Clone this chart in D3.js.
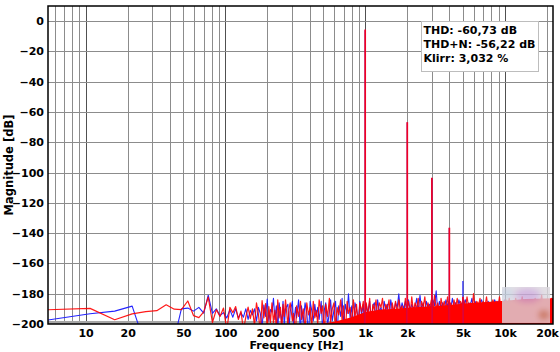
<!DOCTYPE html>
<html>
<head>
<meta charset="utf-8">
<script src="https://cdn.jsdelivr.net/npm/d3@7"></script>
<style>
  body { margin: 0; background: #fff; }
  text { font-family: "DejaVu Sans", Verdana, sans-serif; font-weight: bold; fill: #000; }
</style>
</head>
<body>
<svg id="chart" width="560" height="352"></svg>
<script>
// FFT bin width (44.1 kHz, 8192 points)
const BIN_HZ = 44100 / 8192;

// axis ticks
const xTicks = [10, 20, 50, 100, 200, 500, 1000, 2000, 5000, 10000, 20000];
const xTickLabels = ["10", "20", "50", "100", "200", "500", "1k", "2k", "5k", "10k", "20k"];
const yTicks = [0, -20, -40, -60, -80, -100, -120, -140, -160, -180, -200];

// low part of the spectrum: every bin 1..39
const lowBins = [1,2,3,4,5,6,7,8,9,10,11,12,13,14,15,16,17,18,19,20,
  21,22,23,24,25,26,27,28,29,30,31,32,33,34,35,36,37,38,39];
const redLow = [-190.6,-189.7,-197.2,-193.3,-191.8,-191.2,-187.3,-190.2,-190.5,-184.8,
  -194.5,-195.8,-192.0,-182.2,-199.0,-190.5,-195.0,-189.5,-204,-189.0,
  -192.5,-188.5,-197.0,-191.5,-204,-195.5,-188.8,-196.5,-190.0,-201,
  -186.0,-193.5,-205,-184.5,-196.0,-186.5,-203,-188.5,-199.0];
const blueLow = [-197.4,-193.2,-191.5,-188.2,-215,-225,-225,-210,-190.0,-189.5,
  -191.5,-189.0,-192.8,-181.0,-193.0,-190.0,-194.5,-192.5,-196.0,-190.5,
  -195.5,-190.0,-196.0,-192.5,-195.5,-190.0,-197.0,-191.0,-194.0,-190.0,
  -198.0,-189.0,-193.0,-202,-187.5,-195.0,-183.5,-198.0,-190.5];

// upper part: a thinned selection of bins
const highBins = [40,41,42,43,44,45,46,47,48,49, 50,52,53,54,56,57,59,60,62,64,
  65,67,69,71,73,75,77,79,81,83, 85,87,90,92,95,97,100,103,105,108,
  111,114,117,120,124,127,130,134,138,141, 145,149,153,157,161,166,170,175,180,184,
  189,194,200,205,211,216,222,228,234,241, 247,254,261,268,275,283,290,298,306,315,
  323,332,341,350,360,369,379,390,400,411, 422,434,445,458,470,483,496,509,523,537,
  552,567,582,598,614,631,648,665,683,702, 721,740,760,781,802,824,846,869,893,917,
  942,967,994,1021,1048,1077,1106,1136,1167,1198, 1231,1264,1298,1334,1370,1407,1445,1484,1524,1566,
  1608,1652,1696,1742,1789,1838,1888,1939,1991,2045, 2101,2158,2216,2276,2338,2401,2466,2533,2601,2672,
  2744,2818,2895,2973,3053,3136,3221,3308,3398,3490, 3584,3681,3781,3883,3988,4096];
const redHigh = [-186,-199,-191,-203,-184,-196,-189,-205,-187,-195,
  -184,-201,-190,-186,-198,-193,-207,-188,-195,-185,
  -197,-190,-204,-186,-194,-189,-202,-185,-196,-191,
  -200,-184,-193,-188,-206,-187,-195,-183,-199,-190,
  -186,-202,-189,-194,-184,-198,-188,-205,-185,-193,
  -189,-200,-184,-196,-187,-203,-186,-192,-185,-198,
  -186,-194,-183,-199,-187,-191,-184,-197,-186,-189,
  -183,-195,-187,-190,-184,-199,-186,-192,-185,-193,
  -184,-191,-188,-196,-183,-190,-185,-194,-182,-192,
  -186,-190,-183,-195,-185,-189,-182,-193,-186,-190,
  -184,-192,-181,-190,-186,-194,-183,-189,-185,-191,
  -182,-190,-186,-193,-184,-189,-183,-191,-185,-188,
  -184,-190,-182,-189,-186,-192,-180,-190,-185,-188,
  -183,-191,-185,-189,-182,-190,-186,-188,-184,-190,
  -185,-189,-182,-191,-186,-188,-184,-190,-183,-189,
  -186,-189,-183,-190,-185,-188,-182,-190,-186,-188,
  -184,-190,-185,-188,-183,-189,-186,-188,-181,-189,
  -185,-188,-184,-189,-183,-187];
const blueHigh = [-192,-183,-197,-188,-204,-186,-193,-199,-185,-201,
  -190,-187,-203,-192,-185,-200,-189,-196,-184,-206,
  -188,-199,-186,-193,-208,-185,-191,-198,-187,-195,
  -189,-197,-185,-204,-190,-186,-201,-192,-184,-198,
  -191,-185,-207,-188,-195,-183,-200,-187,-193,-180,
  -196,-188,-203,-186,-190,-198,-185,-194,-187,-202,
  -187,-193,-185,-200,-188,-186,-196,-184,-192,-189,
  -195,-185,-191,-187,-198,-184,-190,-193,-186,-189,
  -180,-192,-186,-190,-185,-194,-184,-191,-187,-190,
  -189,-183,-192,-181,-190,-186,-193,-185,-189,-187,
  -190,-184,-188,-178,-192,-185,-189,-186,-191,-184,
  -188,-185,-190,-183,-189,-186,-191,-184,-188,-186,
  -187,-184,-190,-186,-188,-183,-191,-185,-189,-187,
  -186,-184,-189,-187,-190,-185,-188,-186,-189,-184,
  -187,-185,-189,-186,-188,-184,-190,-186,-188,-185,
  -188,-186,-189,-185,-187,-186,-190,-184,-188,-187,
  -186,-188,-185,-189,-187,-186,-188,-185,-189,-187,
  -186,-188,-185,-187,-186,-188];

// top of the dense red noise region (many bins per pixel)
const bandFreq = [250, 400, 600, 800, 1000, 1300, 1700, 2200, 3000, 4000, 6000, 9000, 14000, 22050];
const bandTop = [-203, -201, -198.5, -195.5, -192, -190.5, -190, -189, -188.5, -187.5, -186, -185, -183.5, -183];

// harmonics
const harmFreq = [1000, 2000, 3000, 4000, 5000];
const harmRed = [-5.6, -66.7, -103.4, -136.4, -182];
const harmBlue = [-6.0, -67.0, -103.6, -136.6, -171.6];

const legendLines = ["THD: -60,73 dB", "THD+N: -56,22 dB", "Klirr: 3,032 %"];

// ---------------------------------------------------------------
const W = 560, H = 352;
const margin = { top: 6, right: 7, bottom: 28, left: 48 };
const plotW = W - margin.left - margin.right;
const plotH = H - margin.top - margin.bottom;

const RED = "#ff0000";
const BLUE = "#2424ff";

const svg = d3.select("#chart");
const x = d3.scaleLog().domain([BIN_HZ, 22050]).range([0, plotW]);
const y = d3.scaleLinear().domain([-200, 10]).range([plotH, 0]);

const fig = svg.append("g").attr("transform", `translate(${margin.left},${margin.top})`);

const defs = svg.append("defs");
defs.append("clipPath").attr("id", "clip")
  .append("rect").attr("width", plotW).attr("height", plotH);
defs.append("clipPath").attr("id", "logoclip")
  .append("rect")
  .attr("x", x(9500)).attr("y", y(-175.5))
  .attr("width", x(21000) - x(9500)).attr("height", y(-199.3) - y(-175.5));
defs.append("filter").attr("id", "blur")
  .attr("x", "-30%").attr("y", "-30%").attr("width", "160%").attr("height", "160%")
  .append("feGaussianBlur").attr("stdDeviation", 3);

// grid
const gridFreqs = [];
[1, 10, 100, 1000, 10000].forEach(dec => {
  for (let m = 1; m <= 9; m++) {
    const f = dec * m;
    if (f > BIN_HZ && f < 22050) gridFreqs.push(f);
  }
});
const grid = fig.append("g").attr("class", "grid");
grid.selectAll("line.v").data(gridFreqs).join("line")
  .attr("class", "v")
  .attr("x1", d => Math.round(x(d)) + 0.5).attr("x2", d => Math.round(x(d)) + 0.5)
  .attr("y1", 0).attr("y2", plotH)
  .attr("stroke", d => [10, 100, 1000, 10000].includes(d) ? "#505050" : "#8c8c8c")
  .attr("stroke-width", 1);
grid.selectAll("line.h").data(yTicks.filter(d => d > -200)).join("line")
  .attr("class", "h")
  .attr("x1", 0).attr("x2", plotW)
  .attr("y1", d => Math.round(y(d)) + 0.5).attr("y2", d => Math.round(y(d)) + 0.5)
  .attr("stroke", "#8c8c8c").attr("stroke-width", 1);

const plot = fig.append("g").attr("clip-path", "url(#clip)");

// gray strip at the floor
plot.append("rect")
  .attr("x", 0).attr("width", plotW)
  .attr("y", y(-198)).attr("height", y(-200) - y(-198))
  .attr("fill", "#a6a6a6");

const toPoints = (bins, vals) => bins.map((b, i) => [b * BIN_HZ, vals[i]]);
const bluePts = toPoints(lowBins, blueLow).concat(toPoints(highBins, blueHigh));
const redPts = toPoints(lowBins, redLow).concat(toPoints(highBins, redHigh));

const line = d3.line().x(d => x(d[0])).y(d => y(d[1]));

plot.append("path").datum(bluePts)
  .attr("d", line).attr("fill", "none")
  .attr("stroke", BLUE).attr("stroke-width", 1.1).attr("stroke-linejoin", "round");

// dense red noise
const area = d3.area()
  .x((d, i) => x(bandFreq[i]))
  .y0(y(-210))
  .y1(d => y(d));
plot.append("path").datum(bandTop).attr("d", area).attr("fill", RED);

plot.append("path").datum(redPts)
  .attr("d", line).attr("fill", "none")
  .attr("stroke", RED).attr("stroke-opacity", 0.9)
  .attr("stroke-width", 1.2).attr("stroke-linejoin", "round");

// harmonic lines
plot.selectAll("path.hb").data(harmFreq).join("path")
  .attr("class", "hb")
  .attr("d", (f, i) => line([[f, -210], [f, harmBlue[i]]]))
  .attr("stroke", BLUE).attr("stroke-width", 1.2);
plot.selectAll("path.hr").data(harmFreq).join("path")
  .attr("class", "hr")
  .attr("d", (f, i) => line([[f, -210], [f, harmRed[i]]]))
  .attr("stroke", "#f20022").attr("stroke-width", 1.7);

// blurred logo in the corner
const logo = fig.append("g").attr("clip-path", "url(#logoclip)").attr("opacity", 0.8);
logo.append("rect")
  .attr("x", x(9500)).attr("y", y(-175.5))
  .attr("width", x(21000) - x(9500)).attr("height", y(-199.3) - y(-175.5))
  .attr("fill", "#dcd8de");
const blobs = logo.append("g").attr("filter", "url(#blur)");
blobs.append("ellipse")
  .attr("cx", x(14500)).attr("cy", y(-181))
  .attr("rx", 13).attr("ry", 7).attr("fill", "#c9a6d9");
blobs.append("ellipse")
  .attr("cx", x(10300)).attr("cy", y(-180))
  .attr("rx", 6).attr("ry", 6).attr("fill", "#c3d0e2");
blobs.append("ellipse")
  .attr("cx", x(19000)).attr("cy", y(-194))
  .attr("rx", 5).attr("ry", 4).attr("fill", "#b88a6a");

// frame
fig.append("rect")
  .attr("width", plotW).attr("height", plotH)
  .attr("fill", "none").attr("stroke", "#000").attr("stroke-width", 1.5);

// axes
const xAxis = d3.axisBottom(x).tickValues(xTicks)
  .tickFormat((d, i) => xTickLabels[i]).tickSize(0);
fig.append("g").attr("transform", `translate(0,${plotH})`).call(xAxis)
  .call(g => g.select(".domain").remove())
  .call(g => g.selectAll("text").attr("y", 13).attr("dy", 0)
    .attr("font-size", 11).attr("font-family", null).attr("fill", "#000"));

const yAxis = d3.axisLeft(y).tickValues(yTicks).tickSize(0).tickPadding(4);
fig.append("g").call(yAxis)
  .call(g => g.select(".domain").remove())
  .call(g => g.selectAll("text").attr("font-size", 11)
    .attr("font-family", null).attr("fill", "#000"));

svg.append("text")
  .attr("x", margin.left + plotW / 2 - 4).attr("y", 349)
  .attr("text-anchor", "middle").attr("font-size", 11)
  .text("Frequency [Hz]");
svg.append("text")
  .attr("transform", `translate(13,${margin.top + plotH / 2}) rotate(-90)`)
  .attr("text-anchor", "middle").attr("font-size", 11.5)
  .text("Magnitude [dB]");

// result box
const box = svg.append("g").attr("transform", "translate(421,21)");
box.append("rect")
  .attr("x", 0.5).attr("y", 0.5).attr("width", 117).attr("height", 50)
  .attr("fill", "#fff").attr("stroke", "#bdbdbd");
box.selectAll("text").data(legendLines).join("text")
  .attr("x", 2.5).attr("y", (d, i) => 12.5 + i * 14.2)
  .attr("font-size", 11)
  .text(d => d);
</script>
</body>
</html>
